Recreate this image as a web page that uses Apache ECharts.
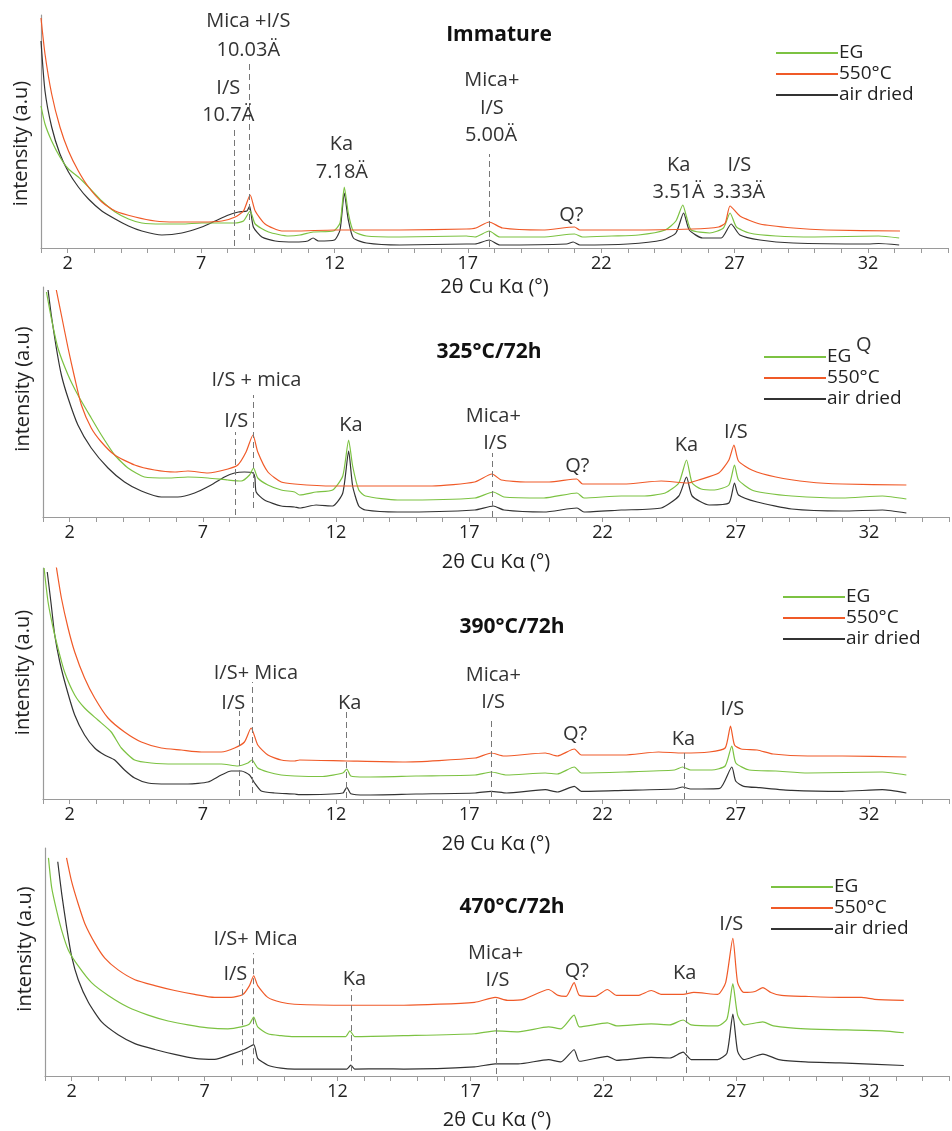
<!DOCTYPE html>
<html><head><meta charset="utf-8">
<script src="https://cdn.jsdelivr.net/npm/echarts@6/dist/echarts.min.js"></script>
<style>html,body{margin:0;padding:0;background:#fff}#c{width:952px;height:1131px}</style>
</head><body><div id="c"></div>
<script>
// ---------- DATA ----------
const seriesNames = ['EG', '550°C', 'air dried'];
const panelTitles = ['Immature', '325°C/72h', '390°C/72h', '470°C/72h'];
const xTickLabels = [2, 7, 12, 17, 22, 27, 32];
const xAxisName = '2θ Cu Kα (°)';
const yAxisName = 'intensity (a.u)';

// Panel 1 : Immature  [2θ, intensity]
const p1EG = [[1.0,142],[1.15,124],[1.4,107],[1.71,91],[2.03,79],[2.4,71],[2.78,61],[3.28,47],[3.78,36],[4.28,29],[4.78,25],[5.53,24],[6.28,24],[7.03,25],[7.78,25],[8.28,25],[8.59,27],[8.84,37],[9.03,24],[9.53,16],[10.28,12],[10.71,13],[11.2,16],[11.96,17],[12.21,25],[12.37,61],[12.52,35],[12.71,17],[13.2,12],[14.45,11],[16.95,12],[17.27,11],[17.8,17],[18.2,11],[19.8,11],[21.0,14],[21.3,11],[22.4,12],[23.4,13],[24.4,18],[24.8,27],[25.06,43],[25.19,32],[25.37,18],[26.07,15],[26.58,20],[26.83,35],[27.07,21],[27.55,15],[28.55,12],[30.0,11],[32.4,12],[33.17,10]];
const p1C550 = [[1.0,230],[1.15,194],[1.4,154],[1.71,121],[2.03,97],[2.4,77],[2.78,61],[3.28,46],[3.78,37],[4.53,31],[5.28,27],[6.03,26],[7.03,26],[7.78,27],[8.28,31],[8.59,37],[8.84,53],[9.03,37],[9.4,24],[10.03,17],[10.5,17],[12.0,18],[14.45,18],[16.94,19],[17.3,20],[17.8,26],[18.3,20],[19.8,18],[21.0,21],[21.2,18],[23.0,18],[25.4,19],[26.4,21],[26.65,25],[26.83,42],[27.2,32],[27.95,24],[29.2,20],[30.45,18],[33.2,17]];
const p1AD = [[1.0,207],[1.15,157],[1.4,121],[1.71,94],[2.03,76],[2.4,61],[2.78,49],[3.28,37],[3.78,29],[4.28,22],[4.78,17],[5.53,13],[6.28,15],[7.03,21],[7.53,27],[8.03,33],[8.4,36],[8.72,37],[8.82,42],[8.96,21],[9.28,11],[9.78,7],[10.53,6],[11.0,7],[11.2,10],[11.4,7],[12.0,8],[12.21,18],[12.37,55],[12.52,28],[12.71,10],[13.2,5],[14.45,3],[16.95,4],[17.27,4],[17.8,8],[18.2,3],[20.7,4],[20.95,6],[21.2,3],[23.0,4],[24.3,8],[24.8,15],[25.09,35],[25.3,18],[25.8,10],[26.5,10],[26.87,24],[27.2,13],[27.95,8],[29.2,5],[32.0,4],[32.4,4.5],[33.17,3]];

// Panel 2 : 325°C/72h
const p2EG = [[1.13,225],[1.31,199],[1.56,169],[1.94,142],[2.31,122],[2.81,99],[3.19,82],[3.69,62],[4.19,49],[4.81,40],[5.69,39],[6.44,40],[7.19,39],[7.94,37],[8.44,36],[8.75,42],[8.9,49],[9.06,39],[9.44,32],[9.94,27],[10.44,25],[10.63,22],[11.25,25],[11.87,27],[12.25,41],[12.47,77],[12.62,51],[12.85,27],[13.1,21],[14.3,17],[17.2,19],[17.9,25],[18.3,20],[19.8,19],[21.04,24],[21.3,19],[22.7,21],[23.5,21],[24.35,24],[24.86,34],[25.15,57],[25.36,34],[25.7,28],[26.2,27],[26.74,32],[26.95,52],[27.1,37],[27.6,27],[28.1,24],[29.1,21],[31.0,19],[32.5,21],[33.4,18]];
const p2C550 = [[1.5,227],[1.69,202],[1.94,169],[2.19,139],[2.44,112],[2.81,89],[3.19,75],[3.69,62],[4.44,52],[5.19,47],[5.94,45],[6.44,46],[7.19,44],[7.94,48],[8.31,52],[8.62,65],[8.88,82],[9.06,65],[9.44,45],[9.94,35],[10.44,33],[11.87,31],[13.1,31],[15.6,31],[17.2,35],[17.85,43],[18.2,37],[19.1,35],[20.0,35],[21.03,38],[21.25,33],[22.8,33],[24.2,36],[25.2,34],[25.6,37],[26.36,44],[26.74,57],[26.93,72],[27.1,56],[27.6,47],[28.5,40],[29.75,35],[31.0,33],[33.4,32]];
const p2AD = [[1.19,227],[1.31,202],[1.5,169],[1.69,142],[1.94,119],[2.31,92],[2.81,69],[3.44,49],[4.06,35],[4.69,26],[5.44,20],[6.06,20],[6.69,24],[7.31,32],[7.81,40],[8.19,44],[8.56,45],[8.88,44],[8.95,40],[9.0,25],[9.31,17],[9.94,11],[10.44,10],[10.63,9],[11.25,12],[11.87,11],[12.25,24],[12.47,66],[12.62,31],[12.85,11],[13.1,7],[14.3,5],[17.2,7],[17.9,11],[18.3,7],[19.8,5],[21.04,9],[21.3,5],[22.7,7],[24.2,9],[24.86,21],[25.15,40],[25.36,21],[26.0,12],[26.74,14],[26.95,34],[27.1,22],[27.8,15],[29.1,8],[31.0,6],[32.5,7],[33.4,4]];

// Panel 3 : 390°C/72h
const p3EG = [[1.04,231],[1.19,197],[1.38,171],[1.56,151],[1.81,127],[2.19,104],[2.56,91],[3.06,79],[3.56,67],[3.94,51],[4.44,39],[5.06,36],[5.94,35],[6.94,35],[7.69,35],[8.31,33],[8.69,36],[8.84,39],[9.06,31],[9.44,27],[9.94,24],[10.44,23],[11.5,22.5],[12.25,26],[12.4,30],[12.55,23],[13.1,22],[15.0,23],[17.22,24],[17.82,27],[18.4,24],[19.85,26],[20.3,25],[20.94,32],[21.2,26],[22.8,27],[24.7,29],[25.0,32],[25.3,29],[26.1,29],[26.6,33],[26.85,53],[27.0,36],[27.5,29],[28.5,28],[29.7,26],[32.5,27],[33.4,24]];
const p3C550 = [[1.5,232],[1.69,201],[1.94,171],[2.19,147],[2.56,121],[2.94,101],[3.44,81],[4.06,67],[4.69,57],[5.44,51],[6.19,49],[6.94,47],[7.69,47],[8.19,51],[8.56,57],[8.81,71],[9.06,54],[9.44,44],[9.94,39],[10.44,38],[10.63,39],[12.4,38],[14.5,37],[17.22,41],[17.82,46],[18.3,43],[19.85,46],[20.3,43],[20.94,50],[21.2,44],[22.8,44],[24.1,47],[25.0,46],[26.0,47],[26.6,51],[26.8,73],[26.95,54],[27.2,50],[27.8,49],[28.4,45],[29.7,43],[31.0,43],[33.4,42]];
const p3AD = [[1.16,227],[1.31,194],[1.44,164],[1.63,137],[1.88,111],[2.19,84],[2.56,64],[2.94,51],[3.31,44],[3.69,39],[4.06,29],[4.44,21],[4.94,16],[5.69,15],[6.44,15],[7.19,17],[7.69,24],[8.06,28],[8.44,28],[8.75,24],[8.94,16],[9.19,8],[9.69,6],[10.44,5],[10.63,4.3],[12.25,6],[12.4,11.7],[12.55,5.3],[13.1,4],[15.0,5],[17.22,6],[17.82,7.7],[18.4,6],[19.85,9.3],[20.3,7],[20.94,12.7],[21.2,7.7],[22.8,8.7],[24.7,10],[25.0,12],[25.3,10],[26.4,10.7],[26.85,32],[27.0,17.7],[27.3,12.7],[27.9,11.3],[29.1,8.7],[31.0,7.7],[32.5,9.3],[33.4,6]];

// Panel 4 : 470°C/72h
const p4EG = [[1.13,222],[1.25,192],[1.44,168],[1.63,148],[1.88,128],[2.25,112],[2.75,95],[3.38,82],[4.13,70],[4.88,62],[5.63,56],[6.38,52],[7.13,49],[7.88,48],[8.38,50],[8.69,53],[8.85,60],[9.0,50],[9.38,43],[9.88,41],[10.38,40],[12.3,40],[12.47,46],[12.65,40],[14.5,41],[17.16,43],[17.93,46],[18.8,45],[19.94,50],[20.4,48],[20.9,62],[21.1,50],[22.15,54],[22.5,51],[23.8,53],[24.5,52],[25.0,57],[25.3,52],[26.3,51],[26.65,58],[26.87,94],[27.05,62],[27.3,52],[28.0,55],[28.4,51],[29.6,48],[32.5,46],[33.3,44]];
const p4C550 = [[1.81,222],[2.0,198],[2.25,175],[2.5,155],[2.88,135],[3.25,120],[3.75,108],[4.38,98],[5.13,92],[5.88,87],[6.63,83],[7.38,80],[8.0,80],[8.44,83],[8.69,92],[8.85,102],[9.0,92],[9.38,80],[9.88,75],[10.38,73],[12.44,72],[14.5,72],[17.16,75],[17.93,80],[18.4,77],[19.0,78],[19.94,88],[20.3,82],[20.6,81],[20.9,95],[21.1,82],[21.7,81],[22.15,88],[22.5,82],[23.3,82],[23.8,87],[24.2,83],[25.0,83],[25.4,85],[26.3,83],[26.6,95],[26.87,140],[27.05,95],[27.28,85],[27.7,86],[28.0,90],[28.3,85],[28.7,82],[29.6,81],[30.9,80],[31.7,80],[32.2,78],[33.3,77]];
const p4AD = [[1.48,218],[1.63,185],[1.81,152],[2.0,122],[2.25,98],[2.63,75],[3.13,55],[3.75,42],[4.38,33],[5.13,27],[5.88,22],[6.63,18],[7.38,17],[8.0,22],[8.5,27],[8.85,32],[9.0,18],[9.38,11],[9.88,8],[10.38,7],[12.35,7],[12.5,11],[12.65,7],[13.7,7.3],[14.5,7],[17.16,9.3],[17.93,12.3],[18.8,12.3],[19.94,16.7],[20.4,14.3],[20.9,26.7],[21.1,15],[22.15,20],[22.5,16],[23.8,19],[24.5,18.3],[25.0,24.3],[25.3,16.7],[26.3,16.7],[26.65,23.3],[26.87,63],[27.05,25],[27.28,16.7],[28.0,22.3],[28.6,16.7],[29.6,14.3],[30.9,13.3],[33.3,10.7]];

// Peak annotations: [text, 2θ, intensity]
const p1Labels = [['Mica +I/S',8.77,227],['10.03Ä',8.77,198],['I/S',8.02,160],['10.7Ä',8.02,133],['Ka',12.26,104],['7.18Ä',12.28,76],['Mica+',17.9,168],['I/S',17.9,140],['5.00Ä',17.87,113],['Q?',20.88,33],['Ka',24.9,83],['3.51Ä',24.9,56],['I/S',27.18,83],['3.33Ä',27.17,56]];
const p2Labels = [['I/S + mica',9.01,137],['I/S',8.25,96],['Ka',12.56,92],['Mica+',17.9,101],['I/S',17.97,74],['Q?',21.05,51],['Ka',25.15,72],['I/S',27.0,85]];
const p3Labels = [['I/S+ Mica',8.99,126],['I/S',8.14,96],['Ka',12.51,96],['Mica+',17.9,124],['I/S',17.89,97],['Q?',20.97,65],['Ka',25.03,60],['I/S',26.87,90]];
const p4Labels = [['I/S+ Mica',8.92,139],['I/S',8.16,103],['Ka',12.64,98],['Mica+',17.95,125],['I/S',18.02,97],['Q?',21.0,107],['Ka',25.06,104],['I/S',26.81,154]];

// Dashed reference lines: [2θ, from, to]
const p1Lines = [[8.24,2,118],[8.81,8,188],[17.81,1,94]];
const p2Lines = [[8.23,2,85],[8.88,9,122],[17.87,0,64]];
const p3Lines = [[8.38,3,88],[8.84,6,117],[12.38,1,88],[17.82,2,79],[25.06,0,50]];
const p4Lines = [[8.41,11,93],[8.85,12,125],[12.5,5,88],[17.97,2,78],[25.1,3,87]];

// ---------- LAYOUT ----------
const FONT = '"Open Sans", "Noto Sans", sans-serif';
const colors = ['#7cc242', '#f05a28', '#333333'];
const panels = [
  {data: [p1EG, p1C550, p1AD], labels: p1Labels, lines: p1Lines, grid: {left: 41, top: 15, width: 907, height: 233}, title: [494, 20], legend: [776, 43], nameGap: 29, yPad: [0, 24, 0, 0]},
  {data: [p2EG, p2C550, p2AD], labels: p2Labels, lines: p2Lines, grid: {left: 43, top: 287, width: 907, height: 230}, title: [484, 337], legend: [764, 347], nameGap: 35, yPad: [0, 0, 0, 26]},
  {data: [p3EG, p3C550, p3AD], labels: p3Labels, lines: p3Lines, grid: {left: 43, top: 568, width: 907, height: 231}, title: [507, 612], legend: [783, 587], nameGap: 35, yPad: [0, 0, 0, 22]},
  {data: [p4EG, p4C550, p4AD], labels: p4Labels, lines: p4Lines, grid: {left: 45, top: 848, width: 907, height: 232}, title: [507, 892], legend: [771, 877], nameGap: 34, yPad: [0, 0, 0, 26]}
];

const option = {
  animation: false,
  backgroundColor: '#fff',
  textStyle: {fontFamily: FONT},
  grid: [], xAxis: [], yAxis: [], series: [], title: [], legend: [],
  graphic: [{type: 'text', left: 856, top: 335, style: {text: 'Q', font: '20px ' + FONT, fill: '#333'}}]
};

panels.forEach((p, i) => {
  option.grid.push(p.grid);
  option.xAxis.push({
    type: 'value', gridIndex: i, min: 1, max: 35, interval: 1,
    name: xAxisName, nameLocation: 'middle', nameGap: p.nameGap,
    nameTextStyle: {fontSize: 20, color: '#222', fontFamily: FONT},
    axisLine: {show: true, lineStyle: {color: '#9a9a9a', width: 1.2}},
    axisTick: {show: true, length: 5, lineStyle: {color: '#9a9a9a'}},
    splitLine: {show: false},
    axisLabel: {
      fontSize: 18, color: '#222', margin: 7, fontFamily: FONT,
      formatter: v => (xTickLabels.indexOf(Math.round(v)) >= 0 && Math.abs(v - Math.round(v)) < 1e-6) ? String(Math.round(v)) : ''
    }
  });
  option.yAxis.push({
    type: 'value', gridIndex: i, min: 0, max: p.grid.height,
    name: yAxisName, nameLocation: 'middle', nameGap: 10, nameRotate: 90,
    nameTextStyle: {fontSize: 20, color: '#222', fontFamily: FONT, padding: p.yPad},
    axisLine: {show: true, lineStyle: {color: '#9a9a9a', width: 1.2}},
    axisTick: {show: false}, axisLabel: {show: false}, splitLine: {show: false}
  });
  option.title.push({
    text: panelTitles[i], left: p.title[0], top: p.title[1], textAlign: 'center',
    textStyle: {fontSize: 21, fontWeight: 'bold', color: '#111', fontFamily: FONT}
  });
  option.legend.push({
    data: seriesNames, orient: 'vertical', left: p.legend[0], top: p.legend[1],
    icon: 'rect', itemWidth: 62, itemHeight: 2, itemGap: 1, padding: 0,
    textStyle: {fontSize: 19, color: '#222', fontFamily: FONT, lineHeight: 20, padding: [0, 0, 0, -4]},
    selectedMode: false
  });
  const order = [2, 0, 1]; // air dried first, then EG, then 550°C on top
  order.forEach(k => {
    const s = {
      name: seriesNames[k], type: 'line', xAxisIndex: i, yAxisIndex: i,
      data: p.data[k], showSymbol: false, symbol: 'none',
      smooth: 0.2, clip: true,
      lineStyle: {color: colors[k], width: 1.2, join: 'round'},
      itemStyle: {color: colors[k]}, z: 3
    };
    if (k === 2) {
      s.markLine = {
        silent: true, symbol: ['none', 'none'], label: {show: false},
        lineStyle: {type: [6, 4], color: '#777', width: 1},
        data: p.lines.map(l => [{coord: [l[0], l[1]]}, {coord: [l[0], l[2]]}])
      };
      s.markPoint = {
        silent: true, symbol: 'circle', symbolSize: 0,
        label: {show: true, position: 'inside', formatter: q => q.name, fontSize: 20, color: '#333', fontFamily: FONT},
        data: p.labels.map(l => ({name: l[0], coord: [l[1], l[2]]}))
      };
    }
    option.series.push(s);
  });
});

const chart = echarts.init(document.getElementById('c'), null, {renderer: 'canvas'});
chart.setOption(option);
</script>
</body></html>
